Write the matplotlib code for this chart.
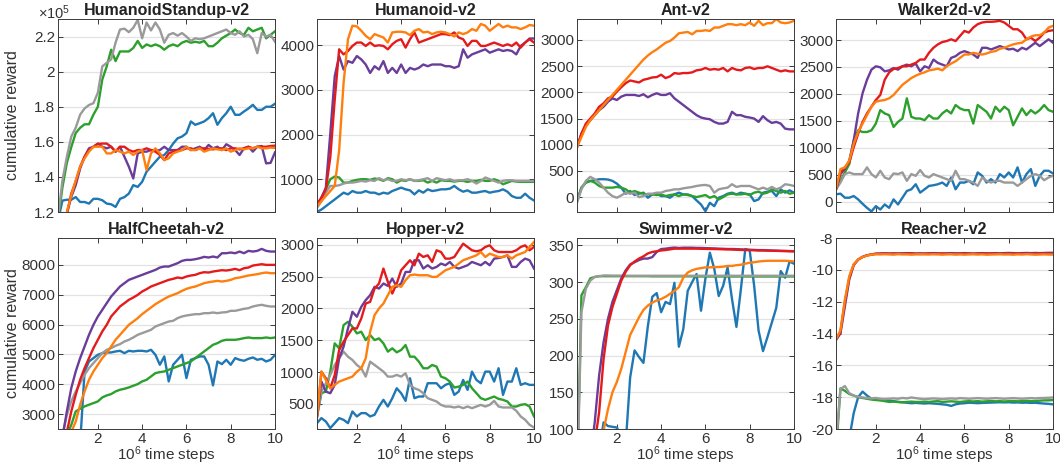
import numpy as np
import matplotlib
matplotlib.use("Agg")
import matplotlib.pyplot as plt
from matplotlib.ticker import FormatStrFormatter

plt.rcParams['font.family'] = ['Liberation Sans', 'DejaVu Sans']
plt.rcParams['mathtext.fontset'] = 'custom'
plt.rcParams['mathtext.rm'] = 'Liberation Sans'
plt.rcParams['mathtext.it'] = 'Liberation Sans:italic'

# evaluation points, in millions of time steps
steps = np.round(np.arange(1, 51) * 0.2, 1)

# ---------------- HumanoidStandup-v2 (x 1e5) ----------------
standup_blue = [1.15, 1.265, 1.27, 1.27, 1.285, 1.257, 1.257, 1.248, 1.275, 1.275,
                1.267, 1.248, 1.244, 1.229, 1.275, 1.285, 1.305, 1.353, 1.343, 1.372,
                1.43, 1.458, 1.487, 1.515, 1.525, 1.553, 1.59, 1.62, 1.63, 1.649,
                1.716, 1.697, 1.706, 1.716, 1.735, 1.763, 1.697, 1.735, 1.763, 1.80,
                1.754, 1.754, 1.773, 1.79, 1.811, 1.782, 1.782, 1.80, 1.80, 1.817]
standup_green = [1.15, 1.34, 1.48, 1.57, 1.65, 1.68, 1.70, 1.70, 1.755, 1.80,
                 1.955, 2.03, 2.125, 2.06, 2.115, 2.115, 2.115, 2.135, 2.175, 2.135,
                 2.155, 2.145, 2.155, 2.145, 2.125, 2.145, 2.155, 2.145, 2.165, 2.175,
                 2.165, 2.17, 2.165, 2.175, 2.145, 2.145, 2.165, 2.19, 2.205, 2.22,
                 2.24, 2.22, 2.21, 2.25, 2.23, 2.24, 2.25, 2.19, 2.21, 2.23]
standup_grey = [1.17, 1.38, 1.515, 1.63, 1.68, 1.755, 1.79, 1.81, 1.82, 1.88,
                2.03, 2.05, 2.07, 2.165, 2.24, 2.245, 2.225, 2.25, 2.295, 2.19,
                2.28, 2.235, 2.28, 2.24, 2.165, 2.21, 2.22, 2.205, 2.22, 2.20,
                2.175, 2.19, 2.185, 2.19, 2.20, 2.21, 2.22, 2.23, 2.24, 2.22,
                2.21, 2.23, 2.20, 2.21, 2.185, 2.105, 2.22, 2.20, 2.21, 2.17]
standup_purple = [1.10, 1.14, 1.19, 1.286, 1.353, 1.448, 1.515, 1.563, 1.572, 1.59,
                  1.572, 1.563, 1.572, 1.544, 1.572, 1.515, 1.458, 1.391, 1.534, 1.544,
                  1.544, 1.553, 1.55, 1.553, 1.572, 1.553, 1.553, 1.553, 1.572, 1.572,
                  1.553, 1.563, 1.572, 1.553, 1.582, 1.563, 1.572, 1.553, 1.586, 1.572,
                  1.553, 1.525, 1.563, 1.572, 1.544, 1.572, 1.576, 1.477, 1.48, 1.54]
standup_red = [1.10, 1.13, 1.19, 1.305, 1.372, 1.458, 1.515, 1.553, 1.572, 1.588,
               1.59, 1.59, 1.572, 1.544, 1.572, 1.572, 1.553, 1.544, 1.553, 1.553,
               1.563, 1.553, 1.544, 1.525, 1.496, 1.534, 1.544, 1.553, 1.553, 1.563,
               1.563, 1.553, 1.563, 1.563, 1.56, 1.557, 1.561, 1.563, 1.553, 1.563,
               1.563, 1.557, 1.563, 1.572, 1.563, 1.572, 1.572, 1.572, 1.576, 1.578]
standup_orange = [1.10, 1.14, 1.20, 1.295, 1.381, 1.458, 1.506, 1.544, 1.572, 1.572,
                  1.572, 1.534, 1.534, 1.553, 1.544, 1.534, 1.544, 1.525, 1.544, 1.553,
                  1.439, 1.534, 1.563, 1.534, 1.496, 1.506, 1.534, 1.544, 1.553, 1.572,
                  1.553, 1.553, 1.563, 1.544, 1.553, 1.563, 1.557, 1.553, 1.563, 1.544,
                  1.553, 1.563, 1.557, 1.563, 1.563, 1.572, 1.563, 1.563, 1.567, 1.565]

# ---------------- Humanoid-v2 ----------------
humanoid_blue = [267, 320, 395, 471, 546, 622, 698, 660, 735, 698,
                 698, 735, 698, 698, 660, 698, 675, 735, 773, 811,
                 773, 750, 660, 750, 698, 773, 735, 750, 773, 773,
                 788, 849, 773, 720, 750, 698, 698, 720, 735, 698,
                 720, 735, 773, 720, 622, 584, 584, 675, 584, 523]
humanoid_green = [395, 584, 773, 1000, 1060, 1038, 924, 924, 962, 985,
                  1000, 1000, 985, 1015, 1000, 962, 1023, 1000, 924, 977,
                  962, 1000, 962, 962, 977, 924, 962, 924, 977, 962,
                  962, 947, 962, 962, 940, 962, 962, 985, 962, 962,
                  1000, 962, 887, 924, 962, 947, 940, 940, 940, 940]
humanoid_grey = [357, 509, 698, 849, 849, 864, 902, 924, 924, 940,
                 962, 947, 977, 962, 1023, 977, 1000, 962, 962, 1000,
                 977, 1000, 962, 977, 1000, 1023, 962, 1023, 1000, 977,
                 1000, 962, 977, 977, 1000, 962, 902, 962, 1038, 1000,
                 962, 924, 962, 977, 977, 962, 962, 962, 962, 962]
humanoid_purple = [433, 584, 811, 2021, 3306, 3760, 3457, 3646, 3608, 3760,
                   3684, 3570, 3381, 3532, 3457, 3646, 3381, 3495, 3381, 3570,
                   3381, 3495, 3457, 3495, 3570, 3532, 3570, 3570, 3570, 3532,
                   3532, 3495, 3532, 3911, 3722, 3797, 3835, 3873, 3911, 3835,
                   3873, 3911, 3873, 3895, 3873, 3797, 3986, 4062, 4153, 4153]
humanoid_red = [433, 584, 773, 1491, 2777, 3911, 3797, 3873, 3986, 4062,
                4062, 3986, 4062, 3986, 4001, 3986, 3911, 4024, 4100, 4137,
                3949, 4137, 4289, 4062, 4100, 4137, 4175, 4213, 4251, 4251,
                4228, 4289, 4175, 4137, 3986, 4100, 4100, 3986, 3986, 4024,
                4062, 4024, 3986, 4024, 3986, 4062, 3949, 4062, 4137, 4062]
humanoid_orange = [395, 509, 622, 735, 849, 1643, 3155, 4137, 4440, 4425,
                   4326, 4213, 4137, 4251, 4213, 4175, 4062, 4289, 4304, 4304,
                   4289, 4228, 4326, 4364, 4289, 4304, 4251, 4289, 4304, 4289,
                   4251, 4198, 4289, 4251, 4289, 4364, 4326, 4478, 4440, 4326,
                   4402, 4478, 4402, 4440, 4402, 4402, 4364, 4402, 4455, 4440]

# ---------------- Ant-v2 ----------------
ant_blue = [-77, 180, 277, 309, 322, 341, 341, 335, 309, 257,
            180, 64, 116, 39, 64, 84, -13, 51, 64, 19,
            19, -13, 51, 84, 51, 51, 19, -64, -142, -270,
            -109, -174, -13, 19, 64, 84, 51, 84, 64, 51,
            -77, -45, 84, 103, 116, 19, 148, 84, 129, 84]
ant_green = [-77, 180, 277, 309, 277, 212, 180, 180, 180, 193,
             180, 148, 84, 116, 84, 64, 51, 51, 39, 51,
             19, 39, 51, 19, 51, 39, 19, 0, 19, 39,
             -13, 19, -45, 0, 51, 64, 51, 51, 64, 39,
             84, 103, 64, 84, 148, 116, 84, 116, 64, 84]
ant_grey = [-109, 148, 309, 386, 341, 277, 180, 84, 19, -13,
            32, 84, 64, 84, 0, 19, 64, 64, 84, 84,
            116, 129, 148, 148, 167, 180, 193, 212, 225, 232,
            212, 84, 148, 167, 180, 245, 193, 212, 212, 212,
            180, 148, 180, 148, 193, 148, 180, 245, 232, 212]
ant_purple = [952, 1210, 1371, 1467, 1564, 1660, 1725, 1821, 1885, 1853,
              1918, 1950, 1950, 1950, 1930, 1963, 1905, 1950, 1982, 1950,
              1950, 1982, 1885, 1821, 1757, 1692, 1628, 1564, 1519, 1499,
              1486, 1435, 1403, 1403, 1435, 1628, 1564, 1564, 1532, 1519,
              1499, 1435, 1545, 1467, 1416, 1435, 1403, 1306, 1293, 1293]
ant_red = [952, 1210, 1403, 1499, 1596, 1725, 1789, 1885, 1918, 2014,
           2098, 2175, 2226, 2207, 2188, 2239, 2259, 2284, 2291, 2336,
           2272, 2304, 2368, 2355, 2368, 2368, 2381, 2420, 2432, 2465,
           2432, 2445, 2432, 2465, 2400, 2465, 2432, 2420, 2465, 2477,
           2445, 2465, 2465, 2497, 2465, 2432, 2400, 2420, 2400, 2400]
ant_orange = [952, 1145, 1338, 1467, 1564, 1660, 1757, 1853, 1950, 2046,
              2143, 2239, 2336, 2432, 2529, 2625, 2703, 2767, 2819, 2883,
              2947, 2980, 3044, 3127, 3140, 3153, 3108, 3172, 3172, 3185,
              3172, 3237, 3237, 3269, 3301, 3301, 3282, 3301, 3282, 3333,
              3269, 3366, 3282, 3320, 3320, 3398, 3333, 3320, 3333, 3366]

# ---------------- Walker2d-v2 ----------------
walker_blue = [138, 150, 75, 75, 106, 44, -38, -113, -180, -81,
               -144, -50, -113, 44, -50, 75, 200, 231, 325, 169,
               231, 294, 306, 325, 356, 294, 450, 231, 356, 356,
               388, 325, 544, 481, 356, 419, 356, 513, 450, 544,
               450, 638, 356, 513, 606, 294, 481, 575, 575, 525]
walker_green = [231, 388, 544, 700, 1138, 1325, 1294, 1294, 1325, 1450,
                1700, 1638, 1606, 1388, 1481, 1544, 1919, 1575, 1544, 1544,
                1513, 1606, 1544, 1544, 1638, 1700, 1638, 1794, 1731, 1700,
                1700, 1450, 1794, 1731, 1669, 1544, 1763, 1669, 1763, 1700,
                1419, 1575, 1731, 1606, 1700, 1638, 1700, 1794, 1700, 1669]
walker_grey = [231, 356, 513, 544, 513, 513, 513, 638, 513, 450,
               575, 450, 419, 525, 513, 544, 388, 513, 481, 588,
               481, 450, 513, 481, 450, 419, 388, 575, 419, 419,
               388, 356, 294, 450, 388, 356, 388, 388, 356, 356,
               356, 294, 356, 419, 481, 513, 481, 400, 450, 481]
walker_purple = [231, 513, 606, 763, 1138, 1638, 2013, 2263, 2450, 2513,
                 2494, 2419, 2438, 2481, 2450, 2513, 2544, 2513, 2563, 2419,
                 2513, 2481, 2638, 2575, 2544, 2513, 2669, 2700, 2763, 2794,
                 2763, 2731, 2669, 2856, 2856, 2825, 2856, 2888, 2856, 2825,
                 2838, 2794, 2856, 2825, 2888, 2950, 2888, 2950, 3013, 2950]
walker_red = [231, 544, 637, 731, 1013, 1263, 1481, 1638, 1763, 1888,
              1981, 2263, 2400, 2463, 2481, 2513, 2513, 2544, 2575, 2638,
              2638, 2763, 2856, 2919, 2963, 2981, 3013, 2981, 3075, 3169,
              3138, 3231, 3294, 3325, 3338, 3338, 3344, 3356, 3325, 3263,
              3200, 3200, 3138, 3013, 3044, 2981, 3044, 3138, 3169, 3181]
walker_orange = [231, 606, 637, 763, 1075, 1294, 1450, 1606, 1763, 1856,
                 1875, 1888, 1919, 1981, 2075, 2169, 2231, 2294, 2338, 2375,
                 2400, 2438, 2450, 2469, 2438, 2513, 2563, 2606, 2669, 2731,
                 2731, 2763, 2744, 2731, 2750, 2781, 2794, 2838, 2856, 2888,
                 2919, 2938, 2950, 3013, 3063, 3088, 3088, 3138, 3231, 3263]

# ---------------- HalfCheetah-v2 ----------------
cheetah_blue = [500, 600, 700, 900, 1200, 2000, 4428, 4763, 4875, 4987,
                5042, 5065, 5065, 5098, 5120, 5042, 5120, 5098, 5120, 5120,
                5098, 5154, 4987, 4652, 4931, 4094, 4652, 4819, 4987, 4205,
                4819, 4875, 4931, 4931, 4652, 3960, 4763, 4674, 4819, 4652,
                4875, 4819, 4786, 4852, 4897, 4819, 4852, 4763, 4819, 4980]
cheetah_green = [1500, 2000, 2300, 2640, 3089, 3179, 3257, 3313, 3368, 3424,
                 3558, 3625, 3670, 3759, 3815, 3848, 3893, 3949, 4004, 4094,
                 4149, 4261, 4373, 4406, 4428, 4484, 4540, 4596, 4652, 4707,
                 4763, 4875, 4987, 5098, 5210, 5321, 5377, 5455, 5489, 5489,
                 5489, 5511, 5545, 5567, 5545, 5545, 5545, 5567, 5545, 5567]
cheetah_grey = [2000, 2300, 2978, 3424, 3759, 4038, 4317, 4540, 4707, 4875,
                5042, 5154, 5210, 5288, 5344, 5433, 5489, 5567, 5656, 5712,
                5768, 5823, 5935, 5991, 6047, 6102, 6125, 6214, 6270, 6303,
                6326, 6348, 6348, 6381, 6381, 6404, 6381, 6404, 6415, 6460,
                6460, 6493, 6527, 6549, 6605, 6638, 6661, 6627, 6605, 6605]
cheetah_purple = [1500, 2200, 3089, 3870, 4428, 4875, 5265, 5656, 5991, 6270,
                  6493, 6716, 6939, 7107, 7274, 7386, 7497, 7553, 7609, 7665,
                  7721, 7776, 7832, 7910, 7944, 7944, 8000, 8056, 8134, 8167,
                  8167, 8190, 8223, 8268, 8246, 8279, 8246, 8390, 8390, 8413,
                  8390, 8446, 8390, 8469, 8446, 8469, 8536, 8469, 8446, 8446]
cheetah_red = [1400, 2100, 2400, 3089, 3647, 4149, 4540, 4875, 5210, 5489,
               5768, 5991, 6270, 6437, 6605, 6716, 6828, 6906, 6995, 7107,
               7185, 7274, 7330, 7386, 7442, 7497, 7531, 7576, 7553, 7609,
               7643, 7665, 7721, 7754, 7743, 7776, 7799, 7821, 7810, 7832,
               7866, 7821, 7888, 7910, 7977, 8000, 8022, 8000, 8000, 8000]
cheetah_orange = [1300, 1800, 2200, 2400, 2750, 3313, 3759, 4149, 4428, 4652,
                  4875, 5042, 5265, 5489, 5656, 5823, 5991, 6102, 6214, 6348,
                  6460, 6571, 6683, 6772, 6861, 6939, 6995, 7051, 7129, 7196,
                  7241, 7274, 7330, 7386, 7419, 7442, 7464, 7442, 7464, 7497,
                  7553, 7576, 7609, 7643, 7665, 7688, 7721, 7743, 7721, 7721]

# ---------------- Hopper-v2 ----------------
hopper_blue = [197, 276, 223, 119, 197, 276, 249, 197, 380, 302,
               354, 354, 302, 328, 458, 563, 458, 589, 745, 667,
               547, 902, 589, 615, 615, 824, 824, 824, 745, 798,
               824, 641, 693, 876, 719, 1006, 876, 824, 1006, 1006,
               850, 1059, 641, 850, 850, 1059, 798, 824, 798, 798]
hopper_green = [302, 667, 693, 1006, 1450, 1372, 1737, 1789, 1711, 1607,
                1633, 1502, 1581, 1502, 1528, 1450, 1320, 1372, 1309, 1346,
                1424, 1241, 1241, 1163, 1059, 1059, 1111, 1085, 928, 902,
                850, 756, 771, 798, 850, 745, 667, 589, 563, 589,
                615, 578, 563, 537, 458, 458, 484, 495, 458, 302]
hopper_grey = [302, 693, 824, 954, 1111, 1215, 1320, 1241, 1189, 1111,
               1059, 928, 1163, 1111, 1059, 1006, 928, 928, 954, 928,
               980, 798, 745, 719, 667, 589, 563, 537, 484, 458,
               458, 443, 458, 432, 458, 432, 458, 484, 458, 484,
               547, 458, 443, 443, 443, 391, 302, 249, 171, 129]
hopper_purple = [302, 850, 693, 667, 798, 1215, 1398, 1685, 1946, 1868,
                 2024, 2129, 2207, 2338, 2311, 2390, 2353, 2468, 2338, 2390,
                 2572, 2572, 2755, 2755, 2625, 2677, 2625, 2651, 2703, 2677,
                 2729, 2651, 2625, 2651, 2677, 2729, 2703, 2677, 2729, 2677,
                 2781, 2791, 2807, 2833, 2651, 2651, 2729, 2781, 2755, 2625]
hopper_red = [302, 1006, 902, 745, 954, 1346, 1476, 1581, 1685, 1685,
              1842, 2076, 2102, 2311, 2390, 2625, 2416, 2233, 2390, 2598,
              2677, 2755, 2677, 2859, 2807, 2833, 2729, 2912, 2885, 2781,
              2781, 2807, 2912, 3016, 2964, 2912, 2896, 2912, 2964, 2990,
              2912, 2885, 2885, 2885, 2885, 2912, 2964, 2990, 2912, 2964]
hopper_orange = [302, 1006, 876, 745, 798, 850, 876, 902, 928, 1006,
                 1059, 1215, 1633, 1894, 1998, 2076, 2207, 2338, 2364, 2338,
                 2442, 2520, 2531, 2520, 2520, 2520, 2494, 2494, 2546, 2598,
                 2625, 2651, 2703, 2755, 2781, 2807, 2833, 2885, 2807, 2859,
                 2833, 2807, 2807, 2833, 2781, 2833, 2859, 2885, 2964, 3042]

# ---------------- Swimmer-v2 ----------------
swimmer_blue = [20, 20, 30, 40, 60, 70, 109, 104, 103, 102,
                90, 80, 170, 207, 198, 190, 240, 280, 285, 259,
                273, 270, 299, 212, 236, 288, 300, 311, 261, 305,
                340, 318, 281, 295, 320, 277, 239, 290, 345, 343,
                295, 234, 206, 225, 245, 265, 315, 306, 328, 325]
swimmer_green = [20, 282, 293, 305, 307, 308, 308, 308, 308, 308,
                 308, 308, 308, 308, 308, 308, 308, 307.8, 307.8, 307.8,
                 307.8, 307.8, 307.8, 307.8, 307.8, 307.8, 307.8, 307.6, 307.6, 307.6,
                 307.6, 307.6, 307.6, 307.6, 307.6, 307.6, 307.6, 307.6, 307.6, 307.6,
                 307.6, 307.6, 307.6, 307.6, 307.6, 307.6, 307.6, 307.6, 307.6, 307.6]
swimmer_grey = [20, 259, 291, 302, 307, 308, 309, 309, 308.8, 308.8,
                308.8, 308.8, 308.6, 308.6, 308.6, 308.6, 308.6, 308.6, 308.6, 308.6,
                308.6, 308.6, 308.6, 308.6, 308.6, 308.6, 308.6, 308.6, 308.6, 308.6,
                308.6, 308.6, 308.6, 308.6, 308.6, 308.6, 308.6, 308.6, 308.6, 308.6,
                308.6, 308.6, 308.6, 308.6, 308.6, 308.6, 308.6, 308.6, 308.6, 308.6]
swimmer_purple = [-50, -20, 20, 60, 109, 173, 218, 250, 273, 289,
                  305, 316, 324, 327, 330, 332, 332, 334, 341, 345,
                  345.5, 346.4, 347, 346.4, 346.8, 346.8, 346.8, 346.5, 346.5, 346.2,
                  346, 345.8, 345.5, 345.3, 345, 345, 344.8, 344.5, 344.2, 344,
                  343.8, 343.5, 343.5, 343.2, 343, 342.8, 342.5, 342.4, 342.2, 342]
swimmer_red = [-50, -20, 10, 50, 80, 123, 195, 241, 266, 284,
               302, 314, 323, 328, 332, 335, 339, 341, 342, 343,
               343.6, 344.5, 345.5, 345.5, 345.5, 345.5, 345.5, 345.5, 345.3, 345.2,
               345, 345, 344.8, 344.6, 344.5, 344.3, 344, 343.8, 343.6, 343.5,
               343.3, 343, 343, 342.8, 342.6, 342.5, 342.3, 342.2, 342, 341.8]
swimmer_orange = [-30, -10, 10, 30, 50, 75, 98, 127, 150, 164,
                  182, 205, 228, 240, 252, 262, 268, 272, 275, 277,
                  280, 284, 288, 293, 306, 313, 316, 318, 319, 320,
                  320, 320.5, 320.5, 321, 322, 322, 323, 323.6, 325, 326.4,
                  327, 328, 328.6, 329, 329, 329, 329, 329, 328.6, 328]

# ---------------- Reacher-v2 ----------------
reacher_blue = [-24, -23, -22, -20.6, -19.0, -18.0, -17.65, -17.9, -18.1, -18.15,
                -18.18, -18.2, -18.22, -18.25, -18.3, -18.32, -18.35, -18.38, -18.36, -18.38,
                -18.4, -18.38, -18.4, -18.42, -18.45, -18.48, -18.55, -18.45, -18.4, -18.38,
                -18.35, -18.36, -18.38, -18.36, -18.35, -18.34, -18.33, -18.32, -18.33, -18.32,
                -18.34, -18.33, -18.35, -18.34, -18.36, -18.35, -18.38, -18.4, -18.42, -18.45]
reacher_green = [-21.5, -17.45, -17.6, -17.8, -17.9, -18.0, -18.05, -18.1, -18.15, -18.18,
                 -18.2, -18.25, -18.3, -18.28, -18.3, -18.32, -18.3, -18.28, -18.3, -18.3,
                 -18.28, -18.3, -18.27, -18.25, -18.3, -18.28, -18.26, -18.28, -18.3, -18.27,
                 -18.25, -18.27, -18.25, -18.28, -18.26, -18.24, -18.26, -18.25, -18.27, -18.25,
                 -18.24, -18.26, -18.25, -18.23, -18.25, -18.24, -18.22, -18.2, -18.2, -18.18]
reacher_grey = [-21.0, -17.5, -17.3, -17.75, -17.9, -17.98, -18.02, -18.05, -18.08, -18.05,
                -18.1, -18.12, -18.1, -18.08, -18.1, -18.05, -18.08, -18.02, -18.06, -18.1,
                -18.12, -18.1, -18.08, -18.1, -18.12, -18.1, -18.08, -18.1, -18.06, -18.08,
                -18.1, -18.08, -18.06, -18.08, -18.1, -18.08, -18.06, -18.08, -18.1, -18.08,
                -18.06, -18.08, -18.1, -18.08, -18.06, -18.08, -18.06, -18.05, -18.04, -18.02]
reacher_purple = [-14.4, -14.0, -12.3, -10.6, -9.7, -9.35, -9.18, -9.08, -9.03, -8.98,
                  -8.97, -8.96, -8.97, -8.96, -8.97, -8.96, -8.95, -8.96, -8.97, -8.96,
                  -8.97, -8.96, -8.95, -8.96, -8.97, -8.96, -8.95, -8.96, -8.96, -8.95,
                  -8.96, -8.97, -8.96, -8.95, -8.96, -8.96, -8.95, -8.96, -8.95, -8.94,
                  -8.95, -8.96, -8.95, -8.94, -8.95, -8.94, -8.95, -8.94, -8.93, -8.93]
reacher_red = [-14.4, -13.9, -12.0, -10.5, -9.68, -9.36, -9.2, -9.09, -9.05, -9.0,
               -9.0, -8.98, -9.0, -9.01, -8.99, -9.0, -9.0, -8.98, -9.0, -9.01,
               -9.0, -8.99, -9.0, -9.0, -8.98, -9.0, -9.0, -9.01, -9.0, -8.99,
               -9.0, -9.0, -9.0, -8.98, -9.0, -8.99, -9.0, -9.0, -8.99, -9.0,
               -9.0, -8.98, -9.0, -8.99, -9.0, -9.0, -8.99, -8.98, -9.0, -9.0]
reacher_orange = [-14.35, -13.8, -11.9, -10.4, -9.65, -9.35, -9.2, -9.1, -9.05, -9.02,
                  -9.03, -9.02, -9.03, -9.04, -9.02, -9.03, -9.03, -9.05, -9.03, -9.02,
                  -9.03, -9.04, -9.02, -9.03, -9.05, -9.03, -9.02, -9.04, -9.03, -9.05,
                  -9.03, -9.02, -9.04, -9.03, -9.05, -9.04, -9.03, -9.02, -9.04, -9.03,
                  -9.05, -9.03, -9.04, -9.02, -9.03, -9.05, -9.04, -9.03, -9.04, -9.04]

COLORS = {
    'blue': '#1f77b4',
    'green': '#2ca02c',
    'grey': '#9a9a9a',
    'purple': '#6a3d9a',
    'red': '#e41a1c',
    'orange': '#ff7f0e',
}
DRAW_ORDER = ['blue', 'green', 'grey', 'purple', 'red', 'orange']
TEXT_COLOR = '#333333'
AXIS_COLOR = '#3a3a3a'

panels = [
    ('HumanoidStandup-v2', [standup_blue, standup_green, standup_grey,
                            standup_purple, standup_red, standup_orange],
     (1.2, 2.3), [1.2, 1.4, 1.6, 1.8, 2.0, 2.2]),
    ('Humanoid-v2', [humanoid_blue, humanoid_green, humanoid_grey,
                     humanoid_purple, humanoid_red, humanoid_orange],
     (265, 4590), [1000, 2000, 3000, 4000]),
    ('Ant-v2', [ant_blue, ant_green, ant_grey, ant_purple, ant_red, ant_orange],
     (-285, 3400), [0, 500, 1000, 1500, 2000, 2500, 3000]),
    ('Walker2d-v2', [walker_blue, walker_green, walker_grey,
                     walker_purple, walker_red, walker_orange],
     (-190, 3390), [0, 500, 1000, 1500, 2000, 2500, 3000]),
    ('HalfCheetah-v2', [cheetah_blue, cheetah_green, cheetah_grey,
                        cheetah_purple, cheetah_red, cheetah_orange],
     (2500, 8900), [3000, 4000, 5000, 6000, 7000, 8000]),
    ('Hopper-v2', [hopper_blue, hopper_green, hopper_grey,
                   hopper_purple, hopper_red, hopper_orange],
     (105, 3105), [500, 1000, 1500, 2000, 2500, 3000]),
    ('Swimmer-v2', [swimmer_blue, swimmer_green, swimmer_grey,
                    swimmer_purple, swimmer_red, swimmer_orange],
     (100, 360), [100, 150, 200, 250, 300, 350]),
    ('Reacher-v2', [reacher_blue, reacher_green, reacher_grey,
                    reacher_purple, reacher_red, reacher_orange],
     (-20, -8), [-20, -18, -16, -14, -12, -10, -8]),
]

W, H = 1060, 465
fig = plt.figure(figsize=(W / 100, H / 100), dpi=100)

col_left = [58, 317, 577, 836]
ax_w = 217
rows = [(19, 212), (238, 429)]   # (top, bottom) in pixels

for k, (title, series, ylim, yticks) in enumerate(panels):
    r, c = divmod(k, 4)
    top, bottom = rows[r]
    ax = fig.add_axes([col_left[c] / W, 1 - bottom / H, ax_w / W, (bottom - top) / H])

    for name, vals in zip(DRAW_ORDER, series):
        ax.plot(steps, vals, color=COLORS[name], lw=1.7, solid_joinstyle='round')

    ax.set_xlim(0.2, 10)
    ax.set_ylim(*ylim)
    ax.set_xticks([2, 4, 6, 8, 10])
    ax.set_yticks(yticks)
    ax.yaxis.set_major_formatter(FormatStrFormatter('%g'))
    ax.yaxis.grid(True, color='#e2e2e2', lw=0.9)
    ax.set_axisbelow(True)
    ax.tick_params(direction='in', top=True, right=True, length=3.5, width=0.7,
                   colors=AXIS_COLOR, labelcolor=TEXT_COLOR, labelsize=11, pad=2)
    for sp in ax.spines.values():
        sp.set_color(AXIS_COLOR)
        sp.set_linewidth(0.7)
    if r == 0:
        ax.tick_params(labelbottom=False)
    else:
        ax.set_xlabel(r'$10^6$ time steps', fontsize=11, color=TEXT_COLOR)
        ax.xaxis.set_label_coords(0.5, -0.082, transform=ax.transAxes)
        ax.xaxis.label.set_va('top')
    if c == 0:
        ax.set_ylabel('cumulative reward', fontsize=11.5, color=TEXT_COLOR)
        ax.yaxis.set_label_coords((20 - col_left[0]) / ax_w, 0.5)
    ax.set_title(title, fontsize=11.5, fontweight='bold', color='#222222', pad=3)

fig.text(38 / W, 1 - 13 / H, r'$\times10^5$', fontsize=10.5, color=TEXT_COLOR,
         ha='left', va='center')

fig.savefig('out.png', dpi=100)
